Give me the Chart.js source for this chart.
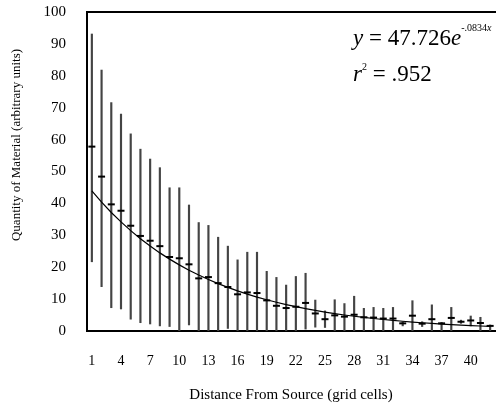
<!DOCTYPE html>
<html><head><meta charset="utf-8">
<script src="https://cdn.jsdelivr.net/npm/chart.js@4.4.1/dist/chart.umd.min.js"></script>
<style>html,body{margin:0;padding:0;background:#fff;overflow:hidden;width:501px;height:406px}canvas{display:block}</style>
</head><body>
<canvas id="c" width="501" height="406"></canvas>
<script>
// ---- data ----
const categories = [1,2,3,4,5,6,7,8,9,10,11,12,13,14,15,16,17,18,19,20,21,22,23,24,25,26,27,28,29,30,31,32,33,34,35,36,37,38,39,40,41,42];
const means = [57.8,48.4,39.7,37.7,33.0,29.8,28.3,26.6,23.2,22.8,20.9,16.5,16.9,15.0,13.8,11.5,12.1,11.9,9.6,7.9,7.2,7.6,8.8,5.5,3.7,4.9,4.5,5.1,4.3,4.2,3.9,3.9,2.4,4.8,2.3,3.7,2.4,4.1,2.9,3.3,2.5,1.6];
const highs = [93.1,81.8,71.6,68.0,61.8,57.0,53.9,51.2,44.9,44.9,39.5,34.0,33.1,29.4,26.6,22.3,24.7,24.7,18.7,16.8,14.4,17.1,18.1,9.7,6.3,9.8,8.6,10.9,7.1,7.4,7.1,7.4,2.9,9.5,2.9,8.2,2.7,7.4,3.4,4.7,4.3,1.9];
const lows = [21.7,13.9,7.3,6.9,3.7,2.6,2.2,1.6,1.4,0,1.9,0,0,0,0.8,0,0,0,0,0,0,0,0.6,1.2,1.1,0,0,0,0,0,0,0,1.6,0,1.4,0,0,0,2.4,1.6,0,0];
const trend = [43.91,40.40,37.16,34.19,31.46,28.94,26.62,24.49,22.53,20.73,19.07,17.55,16.14,14.85,13.66,12.57,11.56,10.64,9.79,9.00,8.28,7.62,7.01,6.45,5.93,5.46,5.02,4.62,4.25,3.91,3.60,3.31,3.05,2.80,2.58,2.37,2.18,2.01,1.85,1.70,1.56,1.44];
const yTicks = [0,10,20,30,40,50,60,70,80,90,100];
const xTitle = 'Distance From Source (grid cells)';
const yTitle = 'Quantity of Material (arbitrary units)';
const eqnCoef = '47.726';
const eqnExp = '-.0834';
const rSquared = '.952';

const SERIF = '"Liberation Serif", "Times New Roman", serif';
Chart.defaults.font.family = SERIF;
Chart.defaults.color = '#000';

const textPlugin = {
  id: 'extraText',
  afterDraw(chart) {
    const ctx = chart.ctx;
    // y axis title
    ctx.save();
    ctx.fillStyle = '#000';
    ctx.font = '13px ' + SERIF;
    ctx.translate(17, 145);
    ctx.rotate(-Math.PI / 2);
    ctx.textAlign = 'center';
    ctx.textBaseline = 'middle';
    ctx.fillText(yTitle, 0, 0);
    ctx.restore();
    // equation
    const drawRun = (x, y, parts) => {
      for (const p of parts) {
        ctx.font = p.f;
        ctx.fillText(p.t, x, y + (p.dy || 0));
        x += ctx.measureText(p.t).width;
      }
    };
    ctx.save();
    ctx.fillStyle = '#000';
    ctx.textAlign = 'left';
    ctx.textBaseline = 'alphabetic';
    const big = '23px ' + SERIF, bigI = 'italic 23px ' + SERIF;
    const sm = '10px ' + SERIF, smI = 'italic 10px ' + SERIF;
    drawRun(353, 45, [
      {t: 'y', f: bigI}, {t: ' = ' + eqnCoef, f: big}, {t: 'e', f: bigI},
      {t: eqnExp, f: sm, dy: -14}, {t: 'x', f: smI, dy: -14}
    ]);
    drawRun(353, 81, [
      {t: 'r', f: bigI}, {t: '2', f: sm, dy: -11}, {t: ' = ' + rSquared, f: big}
    ]);
    ctx.restore();
  }
};

const noPad = (s) => { s.paddingLeft = 0; s.paddingRight = 0; };

new Chart(document.getElementById('c'), {
  type: 'bar',
  data: {
    labels: categories,
    datasets: [
      {
        type: 'line', data: means, showLine: false, pointStyle: 'line',
        pointRadius: 3.5, pointBorderWidth: 2, borderColor: '#000', backgroundColor: '#000', order: 1
      },
      {
        type: 'line', data: trend, borderColor: '#000', borderWidth: 1.2,
        pointRadius: 0, tension: 0, fill: false, order: 2
      },
      {
        type: 'bar', data: lows.map((l, i) => [l, highs[i]]), backgroundColor: '#444',
        barThickness: 1.5, borderWidth: 0, order: 3
      }
    ]
  },
  options: {
    responsive: false, animation: false,
    layout: {padding: 0},
    plugins: {legend: {display: false}, tooltip: {enabled: false}},
    scales: {
      x: {
        type: 'category', offset: true,
        grid: {display: false, drawTicks: false},
        border: {display: true, color: '#000', width: 2},
        ticks: {autoSkip: false, maxRotation: 0, padding: 22, color: '#000',
          font: {family: SERIF, size: 14},
          callback: (v, i) => (i % 3 === 0 ? String(categories[i]) : '')},
        title: {display: true, text: xTitle, color: '#000', font: {family: SERIF, size: 15}, padding: {top: 0, bottom: 2}},
        afterFit(s) { s.height = 75; noPad(s); }
      },
      xTop: {
        type: 'category', position: 'top', offset: true,
        grid: {display: false, drawTicks: false},
        border: {display: true, color: '#000', width: 2},
        ticks: {display: false},
        afterFit(s) { s.height = 12; noPad(s); }
      },
      y: {
        min: 0, max: 100,
        afterBuildTicks(s) { s.ticks = yTicks.map(v => ({value: v})); },
        ticks: {padding: 21, color: '#000', font: {family: SERIF, size: 15}},
        grid: {display: false, drawTicks: false},
        border: {display: true, color: '#000', width: 2},
        afterFit(s) { s.width = 87; s.paddingTop = 0; s.paddingBottom = 0; }
      }
    }
  },
  plugins: [textPlugin]
});
</script>
</body></html>
